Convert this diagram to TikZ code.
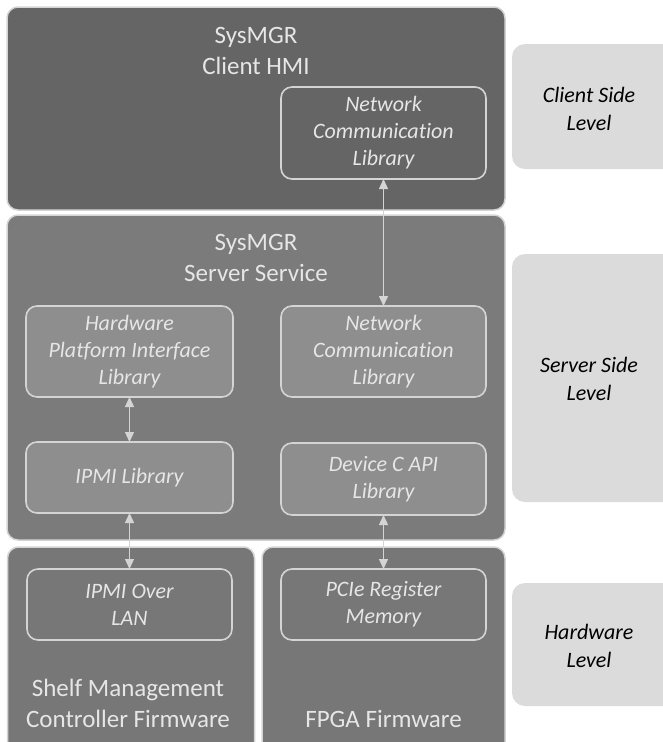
\documentclass[tikz,border=0pt]{standalone}
\usepackage{fontspec}
\setmainfont{Carlito}[Ligatures={NoCommon}]
\usetikzlibrary{arrows.meta}
\definecolor{clientfill}{HTML}{656565}
\definecolor{serverfill}{HTML}{7B7B7B}
\definecolor{innerfill}{HTML}{8E8E8E}
\definecolor{hwfill}{HTML}{777777}
\definecolor{edgecol}{HTML}{D4D4D4}
\definecolor{levelfill}{HTML}{DBDBDB}
\definecolor{lighttext}{HTML}{E6E6E6}
\tikzset{
  outerbox/.style={draw=edgecol, line width=1.5pt, rounded corners=11pt, inner sep=0pt, outer sep=0pt},
  innerbox/.style={draw=edgecol, line width=1.6pt, rounded corners=11pt, inner sep=0pt, outer sep=0pt,
     text=lighttext, align=center, font=\fontsize{22}{27}\selectfont\itshape},
  levelbox/.style={fill=levelfill, draw=none, rounded corners=13pt, inner sep=0pt},
  leveltext/.style={align=center, text=black, font=\fontsize{22}{28}\selectfont\itshape},
  titletext/.style={align=center, text=lighttext, font=\fontsize{25}{31}\selectfont},
  biarrow/.style={draw=edgecol, line width=1.3pt, {Triangle[width=9pt,length=10pt]}-{Triangle[width=9pt,length=10pt]}}
}
\begin{document}
\begin{tikzpicture}[x=1pt,y=-1pt]
\clip (0,0) rectangle (663,742);
\fill[white] (0,0) rectangle (663,742);
% level boxes
\node[levelbox, minimum width=170pt, minimum height=125pt] (lvlc) at (597,106.5) {};
\node[levelbox, minimum width=170pt, minimum height=248pt] (lvls) at (597,378) {};
\node[levelbox, minimum width=170pt, minimum height=123pt] (lvlh) at (597,644.5) {};
\node[leveltext] (lvlctext) at (589,109) {Client Side\\Level};
\node[leveltext] (lvlstext) at (589,379) {Server Side\\Level};
\node[leveltext] (lvlhtext) at (589,646) {Hardware\\Level};
% outer boxes
\node[outerbox, fill=clientfill, minimum width=498pt, minimum height=203pt] (client) at (256,108.5) {};
\node[outerbox, fill=serverfill, minimum width=498pt, minimum height=325pt] (server) at (256,377.5) {};
\node[outerbox, fill=hwfill, minimum width=247pt, minimum height=215pt] (shelf) at (131,654.5) {};
\node[outerbox, fill=hwfill, minimum width=243pt, minimum height=215pt] (fpga) at (383.5,654.5) {};
% titles
\node[titletext] (clienttitle) at (256,51) {SysMGR\\Client HMI};
\node[titletext] (servertitle) at (256,258) {SysMGR\\Server Service};
\node[titletext] (shelftitle) at (128,703) {Shelf Management\\Controller Firmware};
\node[titletext] (fpgatitle) at (383.5,719) {FPGA Firmware};
% inner boxes
\node[innerbox, fill=clientfill, minimum width=205pt, minimum height=92pt] (cnet) at (383.5,133) {Network\\Communication\\Library};
\node[innerbox, fill=innerfill, minimum width=207pt, minimum height=91pt] (hwpi) at (129.5,351.5) {Hardware\\Platform Interface\\Library};
\node[innerbox, fill=innerfill, minimum width=205pt, minimum height=91pt] (snet) at (383.5,351.5) {Network\\Communication\\Library};
\node[innerbox, fill=innerfill, minimum width=207pt, minimum height=71pt] (ipmilib) at (129.5,477.5) {IPMI Library};
\node[innerbox, fill=innerfill, minimum width=205pt, minimum height=72pt] (devapi) at (383.5,479) {Device C API\\Library};
\node[innerbox, fill=hwfill, minimum width=205pt, minimum height=71pt] (ipmilan) at (129.5,604.5) {IPMI Over\\LAN};
\node[innerbox, fill=hwfill, minimum width=205pt, minimum height=71pt] (pcie) at (383.5,604.5) {PCIe Register\\Memory};
% connectors
\draw[biarrow] (cnet.south) -- (snet.north);
\draw[biarrow] (hwpi.south) -- (ipmilib.north);
\draw[biarrow] (ipmilib.south) -- (ipmilan.north);
\draw[biarrow] (devapi.south) -- (pcie.north);
\end{tikzpicture}
\end{document}
